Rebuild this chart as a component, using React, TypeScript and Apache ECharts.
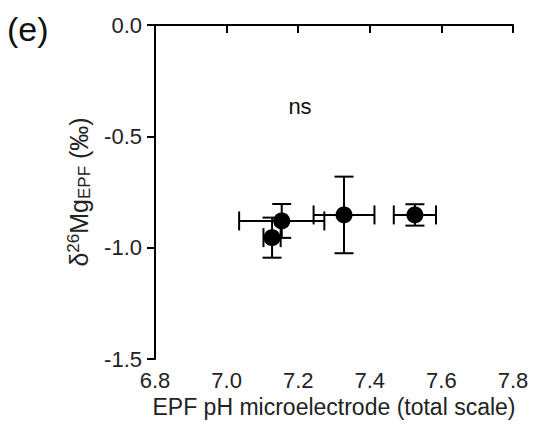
import React, { useEffect, useRef } from "react";
import * as echarts from "echarts";

const phValues = [7.127, 7.154, 7.328, 7.526];
const phErrors = [0.024, 0.119, 0.085, 0.059];
const mgValues = [-0.955, -0.88, -0.853, -0.853];
const mgErrors = [0.09, 0.076, 0.172, 0.048];

const xTicks = [6.8, 7.0, 7.2, 7.4, 7.6, 7.8];
const yTicks = [0.0, -0.5, -1.0, -1.5];

const FONT = "'Liberation Sans', Arial, Helvetica, sans-serif";

export default function App() {
  const ref = useRef<HTMLDivElement>(null);

  useEffect(() => {
    document.body.style.margin = "0";
    if (!ref.current) return;
    const chart = echarts.init(ref.current, undefined, { renderer: "svg" });
    const data = phValues.map((x, i) => [x, mgValues[i], phErrors[i], mgErrors[i]]);

    chart.setOption({
      animation: false,
      backgroundColor: "#ffffff",
      textStyle: { fontFamily: FONT },
      grid: { left: 155, right: 20, top: 25, bottom: 70 },
      xAxis: {
        type: "value",
        min: xTicks[0],
        max: xTicks[xTicks.length - 1],
        interval: 0.2,
        name: "EPF pH microelectrode (total scale)",
        nameLocation: "middle",
        nameGap: 35,
        nameTextStyle: { fontSize: 23, color: "#222", fontFamily: FONT },
        axisLine: { lineStyle: { color: "#000", width: 2 } },
        axisTick: { inside: false, length: 8, lineStyle: { color: "#000", width: 2 } },
        axisLabel: {
          fontSize: 22,
          color: "#222",
          margin: 10,
          fontFamily: FONT,
          formatter: (v: number) => v.toFixed(1),
        },
        splitLine: { show: false },
      },
      yAxis: {
        type: "value",
        min: yTicks[yTicks.length - 1],
        max: yTicks[0],
        interval: 0.5,
        name: "{b|δ}{sup|26}{b|Mg}{sub|EPF}{b| (‰)}",
        nameLocation: "middle",
        nameRotate: 90,
        nameGap: 30,
        nameTextStyle: {
          fontFamily: FONT,
          color: "#222",
          rich: {
            b: { fontSize: 25, color: "#222", fontFamily: FONT },
            sup: { fontSize: 17, color: "#222", fontFamily: FONT, padding: [0, 0, 12, 0] },
            sub: { fontSize: 17, color: "#222", fontFamily: FONT, padding: [11, 0, 0, 0] },
          },
        },
        axisLine: { lineStyle: { color: "#000", width: 2 } },
        axisTick: { inside: false, length: 8, lineStyle: { color: "#000", width: 2 } },
        axisLabel: {
          fontSize: 22,
          color: "#222",
          margin: 13,
          fontFamily: FONT,
          formatter: (v: number) => v.toFixed(1),
        },
        splitLine: { show: false },
      },
      graphic: [
        {
          type: "text",
          left: 7,
          top: 12,
          style: { text: "(e)", fontSize: 34, fill: "#111", fontFamily: FONT },
        },
        {
          type: "text",
          x: 300,
          y: 106,
          style: {
            text: "ns",
            fontSize: 22,
            fill: "#111",
            fontFamily: FONT,
            align: "center",
            verticalAlign: "middle",
          },
        },
      ],
      series: [
        {
          type: "custom",
          data,
          encode: { x: 0, y: 1 },
          renderItem: (params: any, api: any) => {
            const x = api.value(0);
            const y = api.value(1);
            const xe = api.value(2);
            const ye = api.value(3);
            const c = api.coord([x, y]);
            const l = api.coord([x - xe, y]);
            const r = api.coord([x + xe, y]);
            const t = api.coord([x, y + ye]);
            const b = api.coord([x, y - ye]);
            const cap = 9.5;
            const st = { stroke: "#000", lineWidth: 2, fill: "none" };
            return {
              type: "group",
              children: [
                { type: "line", shape: { x1: l[0], y1: c[1], x2: r[0], y2: c[1] }, style: st },
                { type: "line", shape: { x1: l[0], y1: c[1] - cap, x2: l[0], y2: c[1] + cap }, style: st },
                { type: "line", shape: { x1: r[0], y1: c[1] - cap, x2: r[0], y2: c[1] + cap }, style: st },
                { type: "line", shape: { x1: c[0], y1: t[1], x2: c[0], y2: b[1] }, style: st },
                { type: "line", shape: { x1: c[0] - cap, y1: t[1], x2: c[0] + cap, y2: t[1] }, style: st },
                { type: "line", shape: { x1: c[0] - cap, y1: b[1], x2: c[0] + cap, y2: b[1] }, style: st },
                { type: "circle", shape: { cx: c[0], cy: c[1], r: 8.5 }, style: { fill: "#000" } },
              ],
            };
          },
        },
      ],
    });

    return () => chart.dispose();
  }, []);

  return <div ref={ref} style={{ width: 533, height: 429 }} />;
}
